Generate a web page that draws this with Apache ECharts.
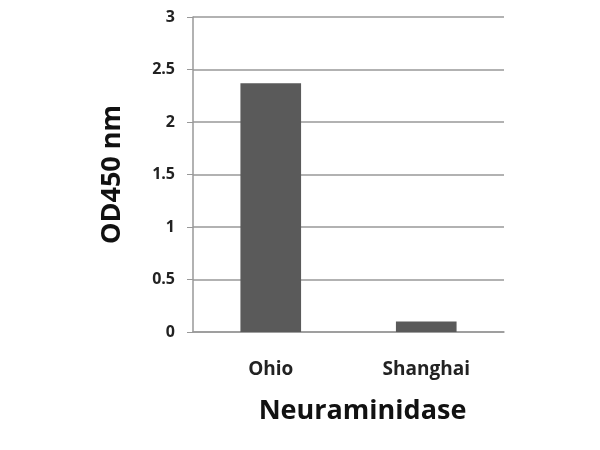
<!DOCTYPE html>
<html><head><meta charset="utf-8">
<script src="https://cdn.jsdelivr.net/npm/echarts@6/dist/echarts.min.js"></script>
<style>html,body{margin:0;padding:0;background:#fff}#c{width:600px;height:450px}</style>
</head><body><div id="c"></div>
<script>
const categories = ['Ohio', 'Shanghai'];
const values = [2.37, 0.10];
const yTicks = [0, 0.5, 1, 1.5, 2, 2.5, 3];

const chart = echarts.init(document.getElementById('c'));
chart.setOption({
  animation: false,
  grid: { left: 193, right: 96, top: 17, bottom: 118 },
  xAxis: {
    type: 'category', data: categories,
    name: 'Neuraminidase', nameLocation: 'middle', nameGap: 66,
    nameTextStyle: { fontFamily: 'Open Sans', fontWeight: 'bold', fontSize: 27, color: '#111', padding: [0, 0, 0, 28] },
    axisLine: { lineStyle: { color: '#999', width: 1.5 } },
    axisTick: { show: false },
    axisLabel: { fontFamily: 'Open Sans', fontWeight: 'bold', fontSize: 19, color: '#222', margin: 28 }
  },
  yAxis: {
    type: 'value', min: 0, max: 3, interval: 0.5,
    name: 'OD450 nm', nameLocation: 'middle', nameGap: 67,
    nameTextStyle: { fontFamily: 'Open Sans', fontWeight: 'bold', fontSize: 27, color: '#111' },
    axisLine: { show: true, lineStyle: { color: '#999', width: 1.5 } },
    axisTick: { show: true, inside: false, length: 6, lineStyle: { color: '#999' } },
    splitLine: { lineStyle: { color: '#999', width: 1.5 } },
    axisLabel: { fontFamily: 'Open Sans', fontWeight: 'bold', fontSize: 16, color: '#222', margin: 18,
      formatter: v => yTicks.includes(v) ? String(v) : '' }
  },
  series: [{
    type: 'bar', data: values, barWidth: '39%',
    itemStyle: { color: '#5a5a5a' }
  }]
});
</script></body></html>
